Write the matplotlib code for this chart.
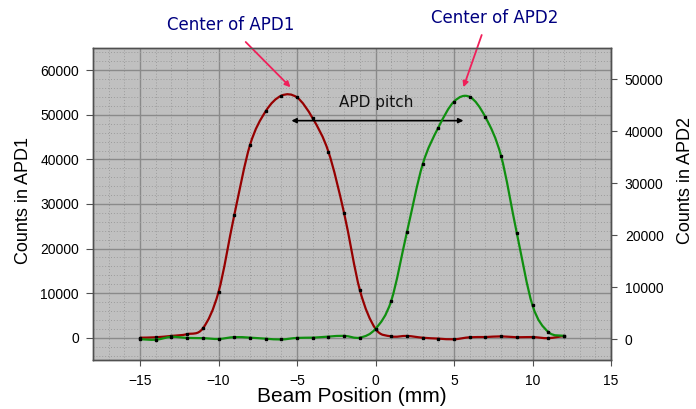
import numpy as np
import matplotlib
matplotlib.use("Agg")
import matplotlib.pyplot as plt
from matplotlib.path import Path
from matplotlib.patches import PathPatch
from matplotlib.ticker import MultipleLocator

plt.rcParams['font.family'] = ['Liberation Sans', 'DejaVu Sans']

# beam position (mm) and counts
pos = list(range(-15, 13))
apd1 = [0, 100, 400, 800, 2100, 10300, 27500, 43200, 50800, 54300,
        53900, 49200, 41700, 27900, 10700, 2000, 300, 400, 0, -200,
        -350, 100, 150, 300, 100, 150, -100, 400]
apd2 = [0, -100, 450, 250, 200, 50, 400, 300, 100, -50,
        250, 300, 500, 650, 300, 2000, 7400, 20600, 33600, 40700,
        45700, 46600, 42700, 35200, 20400, 6500, 1400, 650]

W, H = 696, 409


def smooth_path(x, y):
    # Catmull-Rom curve through the measured points, as bezier segments
    p = np.column_stack([x, y]).astype(float)
    ext = np.vstack([p[0], p, p[-1]])
    verts = [p[0]]
    codes = [Path.MOVETO]
    for i in range(len(p) - 1):
        p0, p1, p2, p3 = ext[i], ext[i + 1], ext[i + 2], ext[i + 3]
        verts += [p1 + (p2 - p0) / 6, p2 - (p3 - p1) / 6, p2]
        codes += [Path.CURVE4] * 3
    return Path(verts, codes)


fig = plt.figure(figsize=(W / 100, H / 100), dpi=100)
ax = fig.add_axes([93 / W, 1 - 360 / H, 518 / W, 312 / H])
ax2 = ax.twinx()

ax.set_facecolor('#c0c0c0')
ax.set_xlim(-18, 15)
ax.set_ylim(-5000, 65000)
ax2.set_ylim(-4000, 56000)

ax.xaxis.set_major_locator(MultipleLocator(5))
ax.xaxis.set_minor_locator(MultipleLocator(1))
ax.yaxis.set_major_locator(MultipleLocator(10000))
ax.yaxis.set_minor_locator(MultipleLocator(2000))
ax2.yaxis.set_major_locator(MultipleLocator(10000))
ax.set_xticks(range(-15, 16, 5))
ax.set_yticks(range(0, 60001, 10000))
ax2.set_yticks(range(0, 50001, 10000))

ax.grid(which='major', color='#8a8a8a', lw=1.0)
ax.grid(which='minor', color='#9c9c9c', lw=0.7, ls=(0, (1, 2)))
ax.set_axisbelow(True)

for a in (ax, ax2):
    for s in a.spines.values():
        s.set_color('#505050')
        s.set_linewidth(1.0)

ax.tick_params(axis='y', which='major', direction='out', length=5, pad=5,
               color='#505050', labelsize=10)
ax.tick_params(axis='x', which='major', direction='out', length=4, pad=6,
               color='#505050', labelsize=10)
ax.tick_params(which='minor', length=0)
ax2.tick_params(axis='y', which='major', direction='out', length=4, pad=6,
                color='#505050', labelsize=10)
ax2.tick_params(which='minor', length=0)

ax.add_patch(PathPatch(smooth_path(pos, apd1), fill=False,
                       edgecolor='#960000', lw=1.6, zorder=3))
ax.plot(pos, apd1, 's', ms=1.5, color='black', zorder=4)
ax2.add_patch(PathPatch(smooth_path(pos, apd2), fill=False,
                        edgecolor='#0f8f0f', lw=1.6, zorder=3))
ax2.plot(pos, apd2, 's', ms=1.5, color='black', zorder=4)

fig.text(24 / W, 1 - 201 / H, 'Counts in APD1', rotation=90,
         ha='center', va='center', fontsize=13)
fig.text(686 / W, 1 - 181 / H, 'Counts in APD2', rotation=90,
         ha='center', va='center', fontsize=13)
fig.text(351.5 / W, 1 - 396.7 / H, 'Beam Position (mm)',
         ha='center', va='center', fontsize=15)

# annotations
navy = '#000080'
pink = '#f0205a'
fig.text(231 / W, 1 - 25 / H, 'Center of APD1', color=navy,
         family='DejaVu Sans', fontsize=12, ha='center', va='center')
fig.text(495 / W, 1 - 18.3 / H, 'Center of APD2', color=navy,
         family='DejaVu Sans', fontsize=12, ha='center', va='center')
ax.annotate('', xy=(-5.42, 56200), xycoords='data',
            xytext=(245.7 / W, 1 - 42 / H), textcoords='figure fraction',
            arrowprops=dict(arrowstyle='-|>', color=pink, lw=1.3,
                            mutation_scale=8, shrinkA=0, shrinkB=0))
ax.annotate('', xy=(5.6, 56200), xycoords='data',
            xytext=(481.7 / W, 1 - 35 / H), textcoords='figure fraction',
            arrowprops=dict(arrowstyle='-|>', color=pink, lw=1.3,
                            mutation_scale=8, shrinkA=0, shrinkB=0))
ax.annotate('', xy=(-5.36, 48700), xytext=(5.6, 48700),
            arrowprops=dict(arrowstyle='<|-|>', color='black', lw=1.2,
                            mutation_scale=7, shrinkA=0, shrinkB=0))
ax.text(0.05, 52700, 'APD pitch', family='DejaVu Sans', fontsize=11,
        ha='center', va='center', color='#111111')

fig.savefig('out.png', dpi=100)
